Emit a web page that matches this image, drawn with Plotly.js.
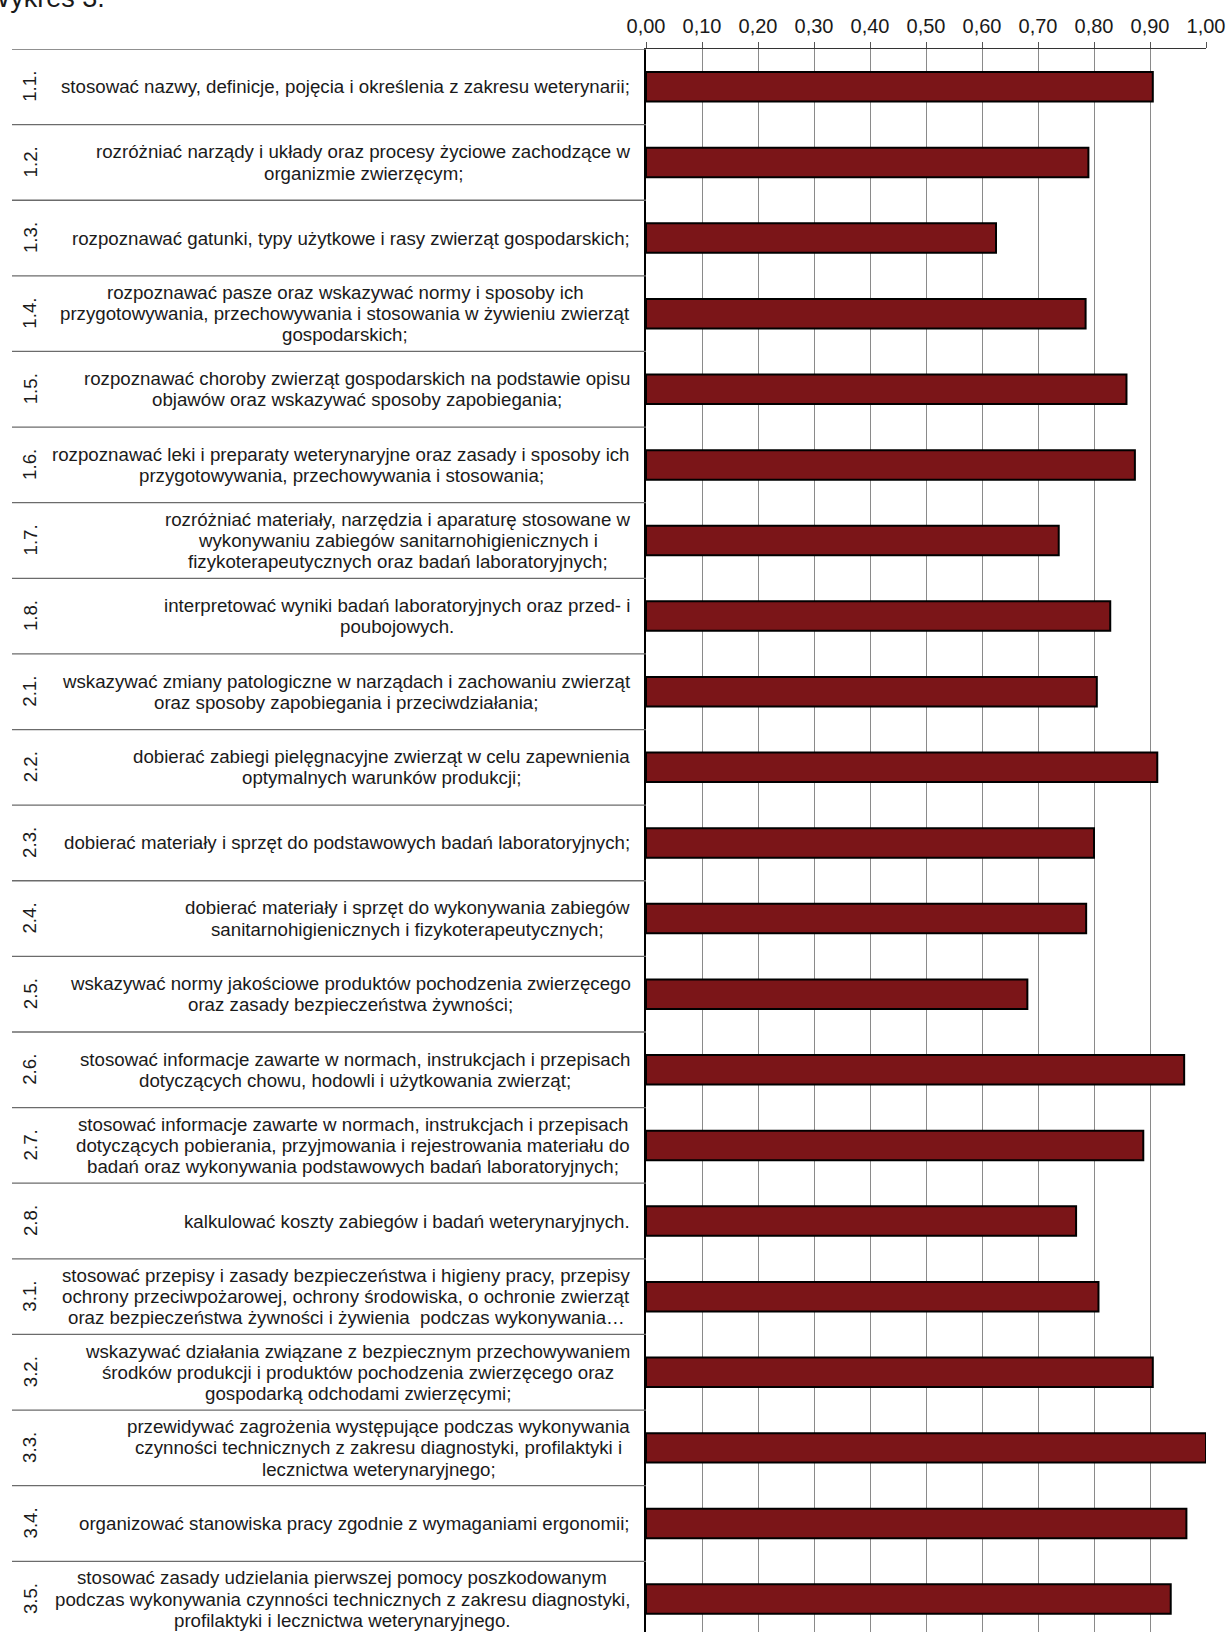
<!DOCTYPE html>
<html><head><meta charset="utf-8">
<script src="https://cdn.plot.ly/plotly-3.0.1.min.js"></script>
<style>html,body{margin:0;padding:0;background:#fff}#chart{width:1227px;height:1632px}</style>
</head><body><div id="chart"></div>
<script>
const codes = ["1.1.","1.2.","1.3.","1.4.","1.5.","1.6.","1.7.","1.8.",
  "2.1.","2.2.","2.3.","2.4.","2.5.","2.6.","2.7.","2.8.",
  "3.1.","3.2.","3.3.","3.4.","3.5."];
const labels = [
  ["stosować nazwy, definicje, pojęcia i określenia z zakresu weterynarii;"],
  ["rozróżniać narządy i układy oraz procesy życiowe zachodzące w","organizmie zwierzęcym;"],
  ["rozpoznawać gatunki, typy użytkowe i rasy zwierząt gospodarskich;"],
  ["rozpoznawać pasze oraz wskazywać normy i sposoby ich","przygotowywania, przechowywania i stosowania w żywieniu zwierząt","gospodarskich;"],
  ["rozpoznawać choroby zwierząt gospodarskich na podstawie opisu","objawów oraz wskazywać sposoby zapobiegania;"],
  ["rozpoznawać leki i preparaty weterynaryjne oraz zasady i sposoby ich","przygotowywania, przechowywania i stosowania;"],
  ["rozróżniać materiały, narzędzia i aparaturę stosowane w","wykonywaniu zabiegów sanitarnohigienicznych i","fizykoterapeutycznych oraz badań laboratoryjnych;"],
  ["interpretować wyniki badań laboratoryjnych oraz przed- i","poubojowych."],
  ["wskazywać zmiany patologiczne w narządach i zachowaniu zwierząt","oraz sposoby zapobiegania i przeciwdziałania;"],
  ["dobierać zabiegi pielęgnacyjne zwierząt w celu zapewnienia","optymalnych warunków produkcji;"],
  ["dobierać materiały i sprzęt do podstawowych badań laboratoryjnych;"],
  ["dobierać materiały i sprzęt do wykonywania zabiegów","sanitarnohigienicznych i fizykoterapeutycznych;"],
  ["wskazywać normy jakościowe produktów pochodzenia zwierzęcego","oraz zasady bezpieczeństwa żywności;"],
  ["stosować informacje zawarte w normach, instrukcjach i przepisach","dotyczących chowu, hodowli i użytkowania zwierząt;"],
  ["stosować informacje zawarte w normach, instrukcjach i przepisach","dotyczących pobierania, przyjmowania i rejestrowania materiału do","badań oraz wykonywania podstawowych badań laboratoryjnych;"],
  ["kalkulować koszty zabiegów i badań weterynaryjnych."],
  ["stosować przepisy i zasady bezpieczeństwa i higieny pracy, przepisy","ochrony przeciwpożarowej, ochrony środowiska, o ochronie zwierząt","oraz bezpieczeństwa żywności i żywienia  podczas wykonywania…"],
  ["wskazywać działania związane z bezpiecznym przechowywaniem","środków produkcji i produktów pochodzenia zwierzęcego oraz","gospodarką odchodami zwierzęcymi;"],
  ["przewidywać zagrożenia występujące podczas wykonywania","czynności technicznych z zakresu diagnostyki, profilaktyki i","lecznictwa weterynaryjnego;"],
  ["organizować stanowiska pracy zgodnie z wymaganiami ergonomii;"],
  ["stosować zasady udzielania pierwszej pomocy poszkodowanym","podczas wykonywania czynności technicznych z zakresu diagnostyki,","profilaktyki i lecznictwa weterynaryjnego."]
];
const values = [0.905,0.790,0.625,0.785,0.858,0.873,0.737,0.829,
  0.805,0.913,0.800,0.786,0.681,0.961,0.888,0.768,
  0.808,0.905,1.000,0.965,0.937];
const chartTitle = "Wykres 3.";

const FONT = "Liberation Sans, Arial, sans-serif";
const LBL_SIZE = 18.7;
const LINE_H = 21.2;
const GAP = 16;
const TXT = "#1a1a1a";

const ctx = document.createElement("canvas").getContext("2d");
ctx.font = LBL_SIZE + "px 'Liberation Sans'";

const annotations = [];
labels.forEach((lines, i) => {
  const maxW = Math.max(...lines.map(l => ctx.measureText(l).width));
  const n = lines.length;
  lines.forEach((line, k) => {
    annotations.push({
      xref: "paper", yref: "y", x: 0, y: codes[i],
      xanchor: "center", yanchor: "middle",
      xshift: -(GAP + maxW / 2),
      yshift: -(k - (n - 1) / 2) * LINE_H,
      text: line, showarrow: false,
      font: {family: FONT, size: LBL_SIZE, color: TXT}
    });
  });
  annotations.push({
    xref: "paper", yref: "y", x: 0, y: codes[i],
    xanchor: "center", yanchor: "middle", xshift: -616,
    text: codes[i], textangle: -90, showarrow: false,
    font: {family: FONT, size: LBL_SIZE, color: TXT}
  });
});
annotations.push({
  xref: "paper", yref: "paper", x: 0, y: 1, xanchor: "left", yanchor: "bottom",
  xshift: -663, yshift: 34, text: chartTitle, showarrow: false,
  font: {family: FONT, size: 27, color: TXT}
});

const shapes = [];
for (let i = 0; i < codes.length; i++) {
  shapes.push({
    type: "line", xref: "paper", yref: "y", xsizemode: "pixel", xanchor: 0,
    x0: -634, x1: 0, y0: i - 0.5, y1: i - 0.5,
    line: {color: "#6b6b6b", width: 1.3}, layer: "above"
  });
}

const trace = {
  type: "bar", orientation: "h", x: values, y: codes, width: 0.39,
  marker: {color: "#7b1518", line: {color: "#000000", width: 2}},
  hoverinfo: "skip"
};

const layout = {
  width: 1227, height: 1632,
  margin: {l: 646, r: 21, t: 49, b: 0, pad: 0},
  paper_bgcolor: "#ffffff", plot_bgcolor: "#ffffff",
  separators: ", ",
  showlegend: false,
  font: {family: FONT, color: TXT},
  xaxis: {
    side: "top", range: [0, 1], dtick: 0.1, tick0: 0, tickformat: ".2f",
    ticks: "outside", ticklen: 6, tickcolor: "#555", tickwidth: 1,
    showline: true, linecolor: "#333", linewidth: 1.5,
    showgrid: true, gridcolor: "#8a8a8a", gridwidth: 1, zeroline: false,
    tickfont: {family: FONT, size: 20, color: TXT}, ticklabelstandoff: 1,
    fixedrange: true
  },
  yaxis: {
    type: "category", categoryorder: "array", categoryarray: codes,
    range: [20.435, -0.5], showticklabels: false, ticks: "",
    showgrid: false, zeroline: false,
    showline: true, linecolor: "#000", linewidth: 2, fixedrange: true
  },
  shapes: shapes,
  annotations: annotations
};

Plotly.newPlot("chart", [trace], layout, {displayModeBar: false, staticPlot: true});
</script>
</body></html>
